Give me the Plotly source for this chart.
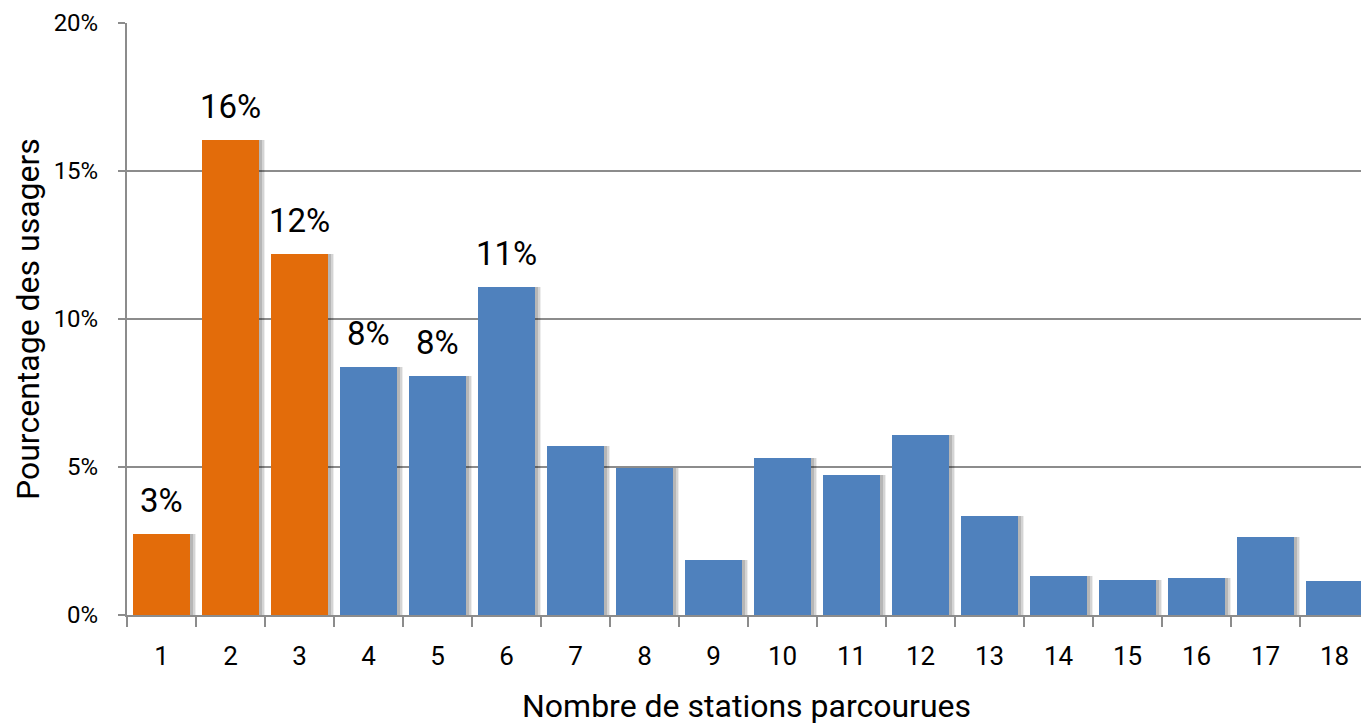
import plotly.graph_objects as go

# Number of stations travelled and share of riders (%)
stations = [str(i) for i in range(1, 19)]
share = [2.74, 16.05, 12.2, 8.38, 8.07, 11.08, 5.71, 4.97, 1.86,
         5.30, 4.73, 6.08, 3.34, 1.32, 1.19, 1.25, 2.64, 1.16]
# First three categories highlighted
highlight = [True, True, True] + [False] * 15
labelled = 6  # value labels shown on the first six bars

y_ticks = [0, 5, 10, 15, 20]
y_tick_text = ["0%", "5%", "10%", "15%", "20%"]

ORANGE = "#E36C0A"
BLUE = "#4F81BD"
FONT = "Roboto, sans-serif"

colors = [ORANGE if h else BLUE for h in highlight]
bar_w = 0.83

fig = go.Figure()

# soft drop shadow behind each bar
for dx, alpha in [(0.09, 0.07), (0.065, 0.10), (0.04, 0.14)]:
    fig.add_trace(go.Bar(
        x=stations, y=share, width=bar_w, offset=-bar_w / 2 + dx,
        marker=dict(color=f"rgba(0,0,0,{alpha})", line=dict(width=0)),
        hoverinfo="skip", showlegend=False,
    ))

fig.add_trace(go.Bar(
    x=stations, y=share, width=bar_w, offset=-bar_w / 2,
    marker=dict(color=colors, line=dict(width=0)),
    showlegend=False,
))

# value labels (category axis positions are indexed from 0)
for i, v in enumerate(share[:labelled]):
    fig.add_annotation(
        x=i, y=v, text=f"{v:.0f}%", showarrow=False,
        yanchor="bottom", yshift=12,
        font=dict(family=FONT, size=33, color="#000000"),
    )

fig.add_annotation(
    xref="paper", yref="paper", x=0.5024, y=0, yshift=-70,
    yanchor="top", text="Nombre de stations parcourues", showarrow=False,
    font=dict(family=FONT, size=32, color="#000000"),
)
fig.add_annotation(
    xref="paper", yref="paper", x=0, xshift=-99, y=0.5,
    xanchor="center", textangle=-90, text="Pourcentage des usagers",
    showarrow=False, font=dict(family=FONT, size=32, color="#000000"),
)

fig.update_layout(
    width=1361, height=724,
    margin=dict(l=127, r=0, t=23, b=109),
    paper_bgcolor="white", plot_bgcolor="white",
    barmode="overlay", bargap=0,
    font=dict(family=FONT, color="#000000"),
)
fig.update_xaxes(
    type="category", range=[-0.5, 17.384],
    tickson="boundaries", ticks="outside", ticklen=10, tickwidth=2,
    tickcolor="#8c8c8c", showline=True, linecolor="#8c8c8c", linewidth=2,
    showgrid=False, tickfont=dict(family=FONT, size=26, color="#000000"),
    ticklabelstandoff=17, fixedrange=True,
)
fig.update_yaxes(
    range=[0, 20], tickvals=y_ticks, ticktext=y_tick_text,
    ticks="outside", ticklen=7, tickwidth=2, tickcolor="#8c8c8c",
    showline=True, linecolor="#8c8c8c", linewidth=2,
    showgrid=True, gridcolor="#8c8c8c", gridwidth=2,
    zeroline=False, tickfont=dict(family=FONT, size=24, color="#000000"),
    ticklabelstandoff=15, fixedrange=True,
)

fig.write_html("out.html", config={"displayModeBar": False})
